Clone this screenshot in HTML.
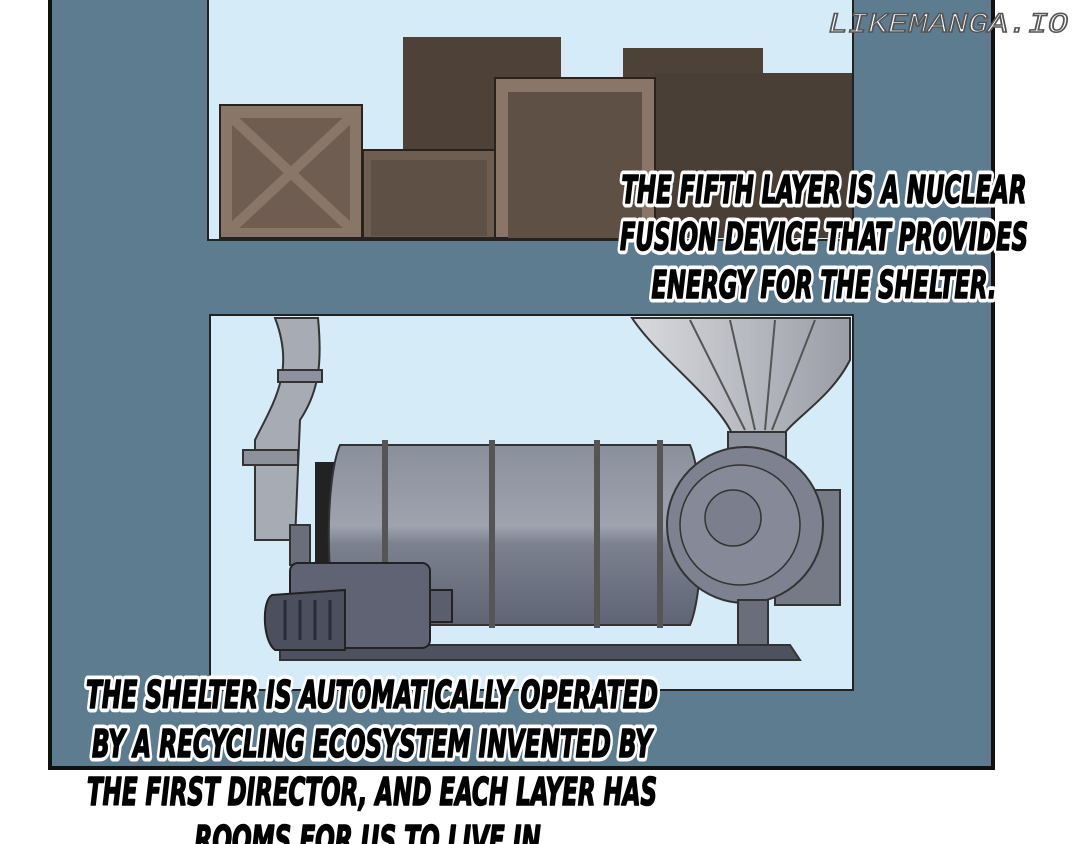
<!DOCTYPE html>
<html><head><meta charset="utf-8"><style>
body{margin:0;width:1080px;height:844px;overflow:hidden;background:#fff}
svg{display:block}
.t{font-family:"DejaVu Sans Condensed","Liberation Sans Narrow","Liberation Sans",sans-serif;font-weight:bold;font-style:italic;text-anchor:middle}
.w{fill:#fff;stroke:#fff;stroke-width:9px;stroke-linejoin:round}
.b{fill:#000;stroke:#000;stroke-width:1.6px;stroke-linejoin:round}
</style></head><body>
<svg width="1080" height="844" viewBox="0 0 1080 844">
<defs>
<linearGradient id="tank" x1="0" y1="0" x2="0" y2="1">
<stop offset="0" stop-color="#8a8f9c"/><stop offset="0.45" stop-color="#9ea3ae"/><stop offset="0.55" stop-color="#7c8190"/><stop offset="1" stop-color="#5f6474"/></linearGradient>
<linearGradient id="fun" x1="0" y1="0" x2="1" y2="0">
<stop offset="0" stop-color="#d8dade"/><stop offset="1" stop-color="#9a9da6"/></linearGradient>
</defs>
<rect x="50" y="-5" width="943" height="773" fill="#5e7c90" stroke="#111" stroke-width="4"/>
<rect x="208" y="-5" width="645" height="245" fill="#d6ebf8" stroke="#222" stroke-width="2"/>
<rect x="403" y="37" width="158" height="200" fill="#4e4238"/>
<rect x="623" y="48" width="140" height="190" fill="#4e4238"/>
<rect x="655" y="73" width="197" height="165" fill="#4a3f36"/>
<rect x="363" y="150" width="132" height="88" fill="#6e5e52" stroke="#2a221c" stroke-width="2"/>
<rect x="371" y="160" width="116" height="76" fill="#5f5045"/>
<rect x="220" y="105" width="142" height="133" fill="#8a7668" stroke="#2a221c" stroke-width="2"/>
<rect x="232" y="118" width="118" height="110" fill="#6e5d50"/>
<path d="M232 118 L350 228 M350 118 L232 228" stroke="#8a7668" stroke-width="10"/>
<rect x="495" y="78" width="160" height="160" fill="#8a7668" stroke="#2a221c" stroke-width="2"/>
<rect x="508" y="92" width="134" height="146" fill="#5f5045"/>
<rect x="210" y="315" width="643" height="375" fill="#d6ebf8" stroke="#222" stroke-width="2"/>
<path d="M632 318 L850 318 L850 360 C830 400 790 420 780 440 L735 440 C720 400 660 360 632 318Z" fill="url(#fun)" stroke="#333" stroke-width="2"/>
<path d="M690 320 L745 430 M730 320 L755 430 M775 320 L765 430 M815 320 L772 430" stroke="#555" stroke-width="2" fill="none"/>
<rect x="728" y="432" width="58" height="30" fill="#8c909c" stroke="#333" stroke-width="2"/>
<path d="M275 318 L318 318 C322 360 320 390 300 420 L295 540 L255 540 L255 440 C275 400 295 370 275 318Z" fill="#a7abb4" stroke="#333" stroke-width="2"/>
<rect x="243" y="450" width="55" height="15" fill="#8d919b" stroke="#333" stroke-width="2"/>
<rect x="278" y="370" width="44" height="12" fill="#8d919b" stroke="#333" stroke-width="2"/>
<rect x="290" y="525" width="20" height="40" fill="#6a6e7a" stroke="#333" stroke-width="2"/>
<rect x="315" y="462" width="30" height="150" fill="#222"/>
<path d="M340 445 L690 445 C705 480 705 590 690 625 L340 625 C325 590 325 480 340 445Z" fill="url(#tank)" stroke="#333" stroke-width="2"/>
<g stroke="#555" stroke-width="6"><line x1="385" y1="440" x2="385" y2="628"/><line x1="492" y1="440" x2="492" y2="628"/><line x1="597" y1="440" x2="597" y2="628"/><line x1="660" y1="440" x2="660" y2="628"/></g>
<rect x="775" y="490" width="65" height="115" fill="#767a87" stroke="#333" stroke-width="2"/>
<circle cx="745" cy="525" r="78" fill="#7d8190" stroke="#333" stroke-width="2"/>
<circle cx="740" cy="525" r="60" fill="#868a98" stroke="#333" stroke-width="1.5"/>
<circle cx="733" cy="518" r="28" fill="#7b7f8d" stroke="#333" stroke-width="1.5"/>
<rect x="738" y="600" width="30" height="48" fill="#6a6e7a" stroke="#333" stroke-width="2"/>
<path d="M280 645 L790 645 L800 660 L280 660Z" fill="#4e5260" stroke="#333" stroke-width="2"/>
<rect x="290" y="563" width="140" height="85" rx="8" fill="#5f6373" stroke="#222" stroke-width="2"/>
<path d="M272 595 C262 600 262 640 275 650 L345 650 L345 590 Z" fill="#4b4f5e" stroke="#222" stroke-width="2"/>
<g stroke="#2a2d38" stroke-width="3" fill="none"><path d="M285 600 v40"/><path d="M300 600 v40"/><path d="M315 600 v40"/><path d="M330 600 v40"/></g>
<rect x="430" y="590" width="22" height="32" fill="#5a5e6d" stroke="#222" stroke-width="2"/>
<g class="t w" font-size="38">
<text x="824" y="203" textLength="405" lengthAdjust="spacingAndGlyphs">THE FIFTH LAYER IS A NUCLEAR</text>
<text x="824" y="250" textLength="408" lengthAdjust="spacingAndGlyphs">FUSION DEVICE THAT PROVIDES</text>
<text x="824" y="298" textLength="345" lengthAdjust="spacingAndGlyphs">ENERGY FOR THE SHELTER.</text>
<text x="372" y="708" textLength="572" lengthAdjust="spacingAndGlyphs">THE SHELTER IS AUTOMATICALLY OPERATED</text>
<text x="372" y="757" textLength="560" lengthAdjust="spacingAndGlyphs">BY A RECYCLING ECOSYSTEM INVENTED BY</text>
<text x="372" y="805" textLength="570" lengthAdjust="spacingAndGlyphs">THE FIRST DIRECTOR, AND EACH LAYER HAS</text>
<text x="372" y="853" textLength="355" lengthAdjust="spacingAndGlyphs">ROOMS FOR US TO LIVE IN.</text>
</g>
<g class="t b" font-size="38">
<text x="824" y="203" textLength="405" lengthAdjust="spacingAndGlyphs">THE FIFTH LAYER IS A NUCLEAR</text>
<text x="824" y="250" textLength="408" lengthAdjust="spacingAndGlyphs">FUSION DEVICE THAT PROVIDES</text>
<text x="824" y="298" textLength="345" lengthAdjust="spacingAndGlyphs">ENERGY FOR THE SHELTER.</text>
<text x="372" y="708" textLength="572" lengthAdjust="spacingAndGlyphs">THE SHELTER IS AUTOMATICALLY OPERATED</text>
<text x="372" y="757" textLength="560" lengthAdjust="spacingAndGlyphs">BY A RECYCLING ECOSYSTEM INVENTED BY</text>
<text x="372" y="805" textLength="570" lengthAdjust="spacingAndGlyphs">THE FIRST DIRECTOR, AND EACH LAYER HAS</text>
<text x="372" y="853" textLength="355" lengthAdjust="spacingAndGlyphs">ROOMS FOR US TO LIVE IN.</text>
</g>
<text x="948" y="32" font-family="Liberation Mono,monospace" font-style="italic" font-size="28" fill="#fff" stroke="#555" stroke-width="1.5" text-anchor="middle" textLength="240" lengthAdjust="spacingAndGlyphs">LIKEMANGA.IO</text>
</svg>
</body></html>
